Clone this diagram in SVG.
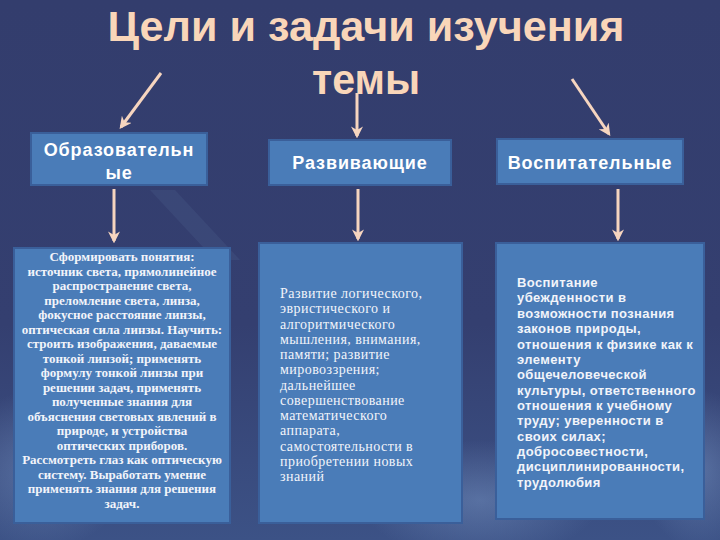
<svg xmlns="http://www.w3.org/2000/svg" width="720" height="540" viewBox="0 0 720 540">
<defs>
<style>
.title{font-family:"Liberation Sans",Arial,sans-serif;font-weight:bold;font-size:42px;fill:#f9d6b9}
.head{font-family:"Liberation Sans",Arial,sans-serif;font-weight:bold;font-size:18px;fill:#ffffff;letter-spacing:0.9px}
.box{fill:#4a7cb8;stroke:#3a5f9a;stroke-width:2}
.t1{font-family:"Liberation Serif","Times New Roman",serif;font-weight:bold;font-size:13px;fill:#f2f4fa;text-anchor:middle}
.t2{font-family:"Liberation Serif","Times New Roman",serif;font-size:14px;fill:#f2f4fa;letter-spacing:0.45px}
.t3{font-family:"Liberation Sans",Arial,sans-serif;font-weight:bold;font-size:13px;fill:#f2f4fa;letter-spacing:0.4px}
.arr{stroke:#f6d5bf;stroke-width:3;fill:none;marker-end:url(#ah)}
</style>
<marker id="ah" viewBox="0 0 10 10" refX="8" refY="5" markerWidth="4" markerHeight="4" orient="auto" markerUnits="strokeWidth">
<path d="M0,0 L10,5 L0,10 L3,5 z" fill="#f6d5bf"/>
</marker>
<linearGradient id="bg" x1="0" y1="0" x2="0" y2="1">
<stop offset="0" stop-color="#333d6d"/>
<stop offset="0.6" stop-color="#343f70"/>
<stop offset="1" stop-color="#3c5286"/>
</linearGradient>
<radialGradient id="glow" cx="0.5" cy="0.5" r="0.5">
<stop offset="0" stop-color="#8fb0dd" stop-opacity="0.35"/>
<stop offset="1" stop-color="#8fb0dd" stop-opacity="0"/>
</radialGradient>
</defs>
<rect width="720" height="540" fill="url(#bg)"/>
<ellipse cx="40" cy="470" rx="90" ry="80" fill="url(#glow)"/>
<ellipse cx="480" cy="500" rx="120" ry="60" fill="url(#glow)"/>
<ellipse cx="700" cy="470" rx="60" ry="80" fill="url(#glow)"/>
<polygon points="150,190 175,190 240,260 215,260" fill="#8fb0dd" opacity="0.08"/>

<g id="title">
<text class="title" x="366" y="41" text-anchor="middle" textLength="517" lengthAdjust="spacingAndGlyphs">Цели и задачи изучения</text>
<text class="title" x="366" y="94" text-anchor="middle" textLength="108" lengthAdjust="spacingAndGlyphs">темы</text>
</g>

<g id="connectors">
<line class="arr" x1="161" y1="73" x2="121" y2="127"/>
<line class="arr" x1="357" y1="93" x2="357" y2="136"/>
<line class="arr" x1="572" y1="79" x2="609" y2="134"/>
<line class="arr" x1="114" y1="189" x2="114" y2="241"/>
<line class="arr" x1="358" y1="189" x2="358" y2="239"/>
<line class="arr" x1="618" y1="189" x2="618" y2="239"/>
</g>

<g id="node-obr">
<rect class="box" x="31" y="133" width="176" height="52"/>
<text class="head" x="119" y="156" text-anchor="middle">Образовательн</text>
<text class="head" x="119" y="179" text-anchor="middle">ые</text>
</g>
<g id="node-razv">
<rect class="box" x="269" y="140" width="182" height="45"/>
<text class="head" x="360" y="169" text-anchor="middle">Развивающие</text>
</g>
<g id="node-vosp">
<rect class="box" x="497" y="139" width="186" height="45"/>
<text class="head" x="590" y="169" text-anchor="middle">Воспитательные</text>
</g>

<g id="node-obr-text">
<rect class="box" x="14" y="248" width="216" height="275"/>
<text class="t1" x="122" y="261">Сформировать понятия:</text>
<text class="t1" x="122" y="276">источник света, прямолинейное</text>
<text class="t1" x="122" y="290">распространение света,</text>
<text class="t1" x="122" y="305">преломление света, линза,</text>
<text class="t1" x="122" y="319">фокусное расстояние линзы,</text>
<text class="t1" x="122" y="334">оптическая сила линзы. Научить:</text>
<text class="t1" x="122" y="348">строить изображения, даваемые</text>
<text class="t1" x="122" y="363">тонкой линзой; применять</text>
<text class="t1" x="122" y="377">формулу тонкой линзы при</text>
<text class="t1" x="122" y="392">решении задач, применять</text>
<text class="t1" x="122" y="406">полученные знания для</text>
<text class="t1" x="122" y="421">объяснения световых явлений в</text>
<text class="t1" x="122" y="435">природе, и устройства</text>
<text class="t1" x="122" y="450">оптических приборов.</text>
<text class="t1" x="122" y="464">Рассмотреть глаз как оптическую</text>
<text class="t1" x="122" y="479">систему. Выработать умение</text>
<text class="t1" x="122" y="493">применять знания для решения</text>
<text class="t1" x="122" y="508">задач.</text>
</g>

<g id="node-razv-text">
<rect class="box" x="259" y="243" width="203" height="280"/>
<text class="t2" x="280" y="298">Развитие логического,</text>
<text class="t2" x="280" y="313">эвристического и</text>
<text class="t2" x="280" y="329">алгоритмического</text>
<text class="t2" x="280" y="344">мышления, внимания,</text>
<text class="t2" x="280" y="359">памяти; развитие</text>
<text class="t2" x="280" y="374">мировоззрения;</text>
<text class="t2" x="280" y="390">дальнейшее</text>
<text class="t2" x="280" y="405">совершенствование</text>
<text class="t2" x="280" y="420">математического</text>
<text class="t2" x="280" y="435">аппарата,</text>
<text class="t2" x="280" y="451">самостоятельности в</text>
<text class="t2" x="280" y="466">приобретении новых</text>
<text class="t2" x="280" y="481">знаний</text>
</g>

<g id="node-vosp-text">
<rect class="box" x="496" y="243" width="208" height="276"/>
<text class="t3" x="517" y="287">Воспитание</text>
<text class="t3" x="517" y="302">убежденности в</text>
<text class="t3" x="517" y="318">возможности познания</text>
<text class="t3" x="517" y="333">законов природы,</text>
<text class="t3" x="517" y="349">отношения к физике как к</text>
<text class="t3" x="517" y="364">элементу</text>
<text class="t3" x="517" y="379">общечеловеческой</text>
<text class="t3" x="517" y="395">культуры, ответственного</text>
<text class="t3" x="517" y="410">отношения к учебному</text>
<text class="t3" x="517" y="425">труду; уверенности в</text>
<text class="t3" x="517" y="441">своих силах;</text>
<text class="t3" x="517" y="456">добросовестности,</text>
<text class="t3" x="517" y="471">дисциплинированности,</text>
<text class="t3" x="517" y="487">трудолюбия</text>
</g>
</svg>
